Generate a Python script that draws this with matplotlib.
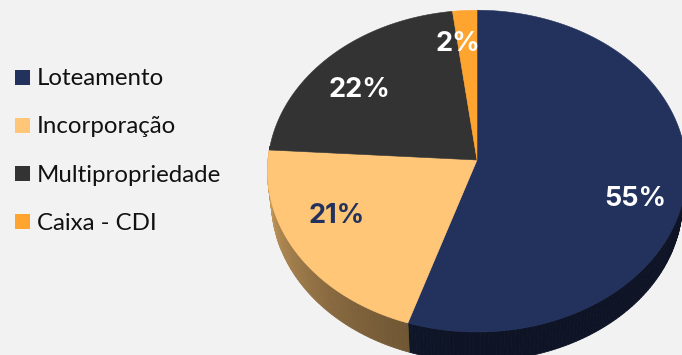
import numpy as np
import matplotlib
matplotlib.use("Agg")
import matplotlib.pyplot as plt
from matplotlib.patches import Polygon, Rectangle

# Portfolio allocation
categories = ["Loteamento", "Incorporação", "Multipropriedade", "Caixa - CDI"]
shares = [55, 21, 22, 2]
colors = ["#22325D", "#FFC677", "#333333", "#FFA42F"]
value_colors = ["white", "#22325D", "white", "white"]

BG = "#F2F2F2"

# 3D pie geometry (pixel units of the canvas)
CX, CY = 477, 160          # projected centre of the top face
R = 209                    # disk radius
ELEV = np.deg2rad(50)      # viewing elevation
DIST = 9.3                 # camera distance (in radii)
THICK = 0.23               # disk thickness (in radii)
# label placement: radial fraction and angular nudge (degrees) per slice
LABEL_R = [0.777, 0.728, 0.752, 0.796]
LABEL_NUDGE = [6.8, 8.6, -4.0, -3.3]


def project(phi, r=1.0, h=0.0):
    """phi: angle clockwise from the back of the disk (radians)."""
    x = r * np.sin(phi)
    z = -r * np.cos(phi)
    up = h * np.cos(ELEV) - z * np.sin(ELEV)
    depth = z * np.cos(ELEV) + h * np.sin(ELEV)
    s = DIST / (DIST - depth)
    return CX + R * x * s, CY - R * up * s


def shade(hexcol, f):
    rgb = np.array(matplotlib.colors.to_rgb(hexcol))
    return tuple(np.clip(rgb * f, 0, 1))


def side_factor(phi_deg):
    t = np.clip((phi_deg - 180) / 90.0, 0, 1)
    return 0.40 + 0.42 * t ** 1.5


fig = plt.figure(figsize=(6.82, 3.55), dpi=100, facecolor=BG)
ax = fig.add_axes([0, 0, 1, 1])
ax.set_facecolor(BG)
ax.set_xlim(0, 682)
ax.set_ylim(355, 0)
ax.axis("off")

fractions = np.array(shares, dtype=float) / sum(shares)
edges = np.concatenate([[0], np.cumsum(fractions)]) * 2 * np.pi

# side wall (front half only)
for i, col in enumerate(colors):
    a0, a1 = edges[i], edges[i + 1]
    lo, hi = max(a0, np.deg2rad(85)), min(a1, np.deg2rad(275))
    if hi <= lo:
        continue
    n = max(2, int(np.rad2deg(hi - lo)))
    ph = np.linspace(lo, hi, n + 1)
    for p0, p1 in zip(ph[:-1], ph[1:]):
        xt0, yt0 = project(p0)
        xt1, yt1 = project(p1)
        xb1, yb1 = project(p1, h=-THICK)
        xb0, yb0 = project(p0, h=-THICK)
        c = shade(col, side_factor(np.rad2deg(0.5 * (p0 + p1))))
        ax.add_patch(Polygon([(xt0, yt0), (xt1, yt1), (xb1, yb1), (xb0, yb0)],
                             closed=True, facecolor=c, edgecolor=c,
                             linewidth=0.6, zorder=1))

# top face
for i, col in enumerate(colors):
    a0, a1 = edges[i], edges[i + 1]
    ph = np.linspace(a0, a1, max(3, int(np.rad2deg(a1 - a0)) * 2))
    xs, ys = project(ph)
    pts = [(CX, CY)] + list(zip(xs, ys))
    ax.add_patch(Polygon(pts, closed=True, facecolor=col, edgecolor=col,
                         linewidth=0.4, zorder=2))

# value labels
for i, v in enumerate(shares):
    mid = 0.5 * (edges[i] + edges[i + 1]) + np.deg2rad(LABEL_NUDGE[i])
    lx, ly = project(mid, r=LABEL_R[i])
    ax.annotate(f"{v}%", (lx, ly), xytext=(0, -3), textcoords="offset points",
                color=value_colors[i], fontsize=19.5, fontweight="bold",
                family="Inter", ha="center", va="center", zorder=3)

# legend
for i, (name, col) in enumerate(zip(categories, colors)):
    y = 77 + i * 48.3
    ax.add_patch(Rectangle((15, y - 7.5), 15, 15, facecolor=col,
                           edgecolor="none", zorder=3))
    ax.text(37, y + 1.5, name, fontsize=17.3, family="Lato", color="#111111",
            ha="left", va="center", zorder=3)

fig.savefig("out.png", dpi=100, facecolor=BG)
